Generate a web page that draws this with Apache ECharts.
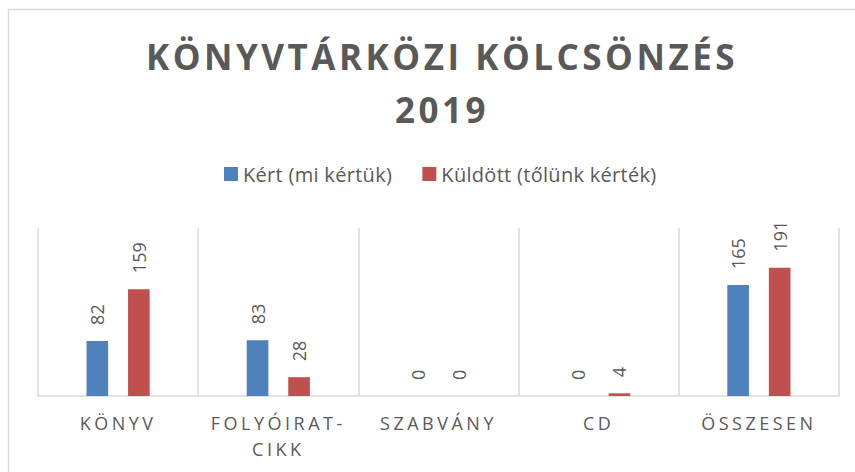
<!DOCTYPE html>
<html>
<head>
<meta charset="utf-8">
<script src="https://cdn.jsdelivr.net/npm/echarts@6/dist/echarts.min.js"></script>
<style>
  html, body { margin: 0; padding: 0; background: #fff; }
  #chart { width: 855px; height: 472px; }
</style>
</head>
<body>
<div id="chart"></div>
<script>
const categories = ['KÖNYV', 'FOLYÓIRAT-CIKK', 'SZABVÁNY', 'CD', 'ÖSSZESEN']
const kert = [82, 83, 0, 0, 165]
const kuldott = [159, 28, 0, 4, 191]
const seriesNames = ['Kért (mi kértük)', 'Küldött (tőlünk kérték)']
const titleLines = ['KÖNYVTÁRKÖZI KÖLCSÖNZÉS', '2019']

const gray = '#595959'
const lineGray = '#d9d9d9'

let mychart = echarts.init(document.getElementById('chart'), null, { renderer: 'svg' })

const barLabel = {
  show: true,
  position: 'top',
  rotate: 90,
  align: 'left',
  verticalAlign: 'middle',
  distance: 16,
  color: gray,
  fontSize: 18,
  fontFamily: 'Open Sans'
}

let option = {
  backgroundColor: '#fff',
  animation: false,
  title: {
    text: titleLines.join('\n'),
    left: 437,
    textAlign: 'center',
    top: 25,
    textStyle: {
      color: gray,
      fontSize: 35,
      fontWeight: 'bold',
      fontFamily: 'Open Sans',
      lineHeight: 53
    }
  },
  legend: {
    data: seriesNames,
    left: 219,
    top: 159,
    itemWidth: 14,
    itemHeight: 14,
    itemGap: 35,
    icon: 'rect',
    textStyle: {
      color: gray,
      fontSize: 20,
      fontFamily: 'Open Sans'
    }
  },
  grid: {
    left: 38,
    right: 16,
    top: 228,
    bottom: 76,
    containLabel: false
  },
  xAxis: {
    type: 'category',
    data: categories,
    axisLine: { lineStyle: { color: lineGray, width: 1.5 } },
    axisTick: { show: false },
    splitLine: { show: true, lineStyle: { color: lineGray, width: 1.5 } },
    axisLabel: {
      color: gray,
      fontSize: 18,
      fontFamily: 'Open Sans',
      margin: 14,
      lineHeight: 26,
      interval: 0,
      formatter: function (v) {
        return v.replace('-', '-\n')
      }
    }
  },
  yAxis: {
    type: 'value',
    min: 0,
    max: 250,
    show: false,
    splitLine: { show: false }
  },
  graphic: [
    {
      type: 'rect',
      shape: { x: 8.5, y: 9.5, width: 900, height: 500 },
      style: { fill: 'none', stroke: lineGray, lineWidth: 1.5 },
      silent: true
    }
  ],
  series: [
    {
      name: seriesNames[0],
      type: 'bar',
      data: kert,
      barWidth: '13.5%',
      barGap: '92%',
      itemStyle: { color: '#4f81bd' },
      label: barLabel
    },
    {
      name: seriesNames[1],
      type: 'bar',
      data: kuldott,
      barWidth: '13.5%',
      barGap: '92%',
      itemStyle: { color: '#c0504d' },
      label: barLabel
    }
  ]
}
mychart.setOption(option)

// letter spacing like the original (only svg text supports it)
function spaceText() {
  let catLines = []
  categories.forEach(c => c.replace('-', '-\n').split('\n').forEach(s => catLines.push(s)))
  document.querySelectorAll('#chart svg text').forEach(t => {
    let s = t.textContent
    if (titleLines.indexOf(s) >= 0) t.style.letterSpacing = '3.5px'
    else if (catLines.indexOf(s) >= 0) t.style.letterSpacing = '3.5px'
    else if (seriesNames.indexOf(s) >= 0) t.style.letterSpacing = '0.3px'
  })
}
spaceText()
mychart.on('finished', spaceText)
</script>
</body>
</html>
